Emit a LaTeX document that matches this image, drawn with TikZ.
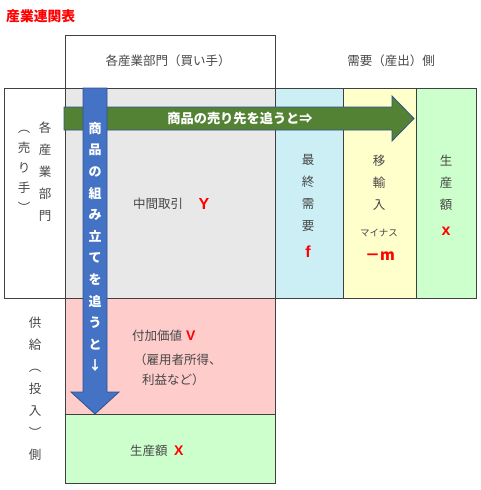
\documentclass[tikz,border=0pt]{standalone}
\usepackage{fontspec}
\setmainfont{Liberation Sans}
\newfontfamily\jp{Noto Sans CJK JP}
\definecolor{linec}{RGB}{64,64,64}
\definecolor{txt}{RGB}{70,70,70}
\definecolor{redc}{RGB}{255,0,0}
\definecolor{grayc}{RGB}{232,232,232}
\definecolor{bluec}{RGB}{204,239,245}
\definecolor{yelc}{RGB}{255,255,204}
\definecolor{grnc}{RGB}{204,255,204}
\definecolor{pinkc}{RGB}{255,204,204}
\definecolor{arrgreen}{RGB}{84,130,53}
\definecolor{arrblue}{RGB}{68,114,196}
\definecolor{arredge}{RGB}{47,82,143}
\begin{document}
\begin{tikzpicture}[x=1pt,y=-1pt,
  cell/.style={draw=linec,line width=0.8pt,inner sep=0pt,outer sep=0pt},
  jtext/.style={text=txt,inner sep=0pt,font=\jp\fontsize{12.5}{15}\selectfont},
  vtext/.style={text=txt,inner sep=0pt,align=center,font=\jp\fontsize{12.5}{22}\selectfont},
  varr/.style={text=white,inner sep=0pt,align=center,font=\jp\bfseries\fontsize{13}{21.6}\selectfont},
  redbig/.style={text=redc,inner sep=0pt,font=\bfseries\fontsize{16}{18}\selectfont},
  redmid/.style={text=redc,inner sep=0pt,font=\bfseries\fontsize{14}{16}\selectfont},
  blockarrow/.style={draw=arredge,line width=0.8pt}]
\useasboundingbox (0,0) rectangle (480,490);
% cells
\node[cell,minimum width=210pt,minimum height=53pt] (header) at (170,61.5) {};
\node[cell,minimum width=61pt,minimum height=210pt] (left) at (34.5,193) {};
\node[cell,fill=grayc,minimum width=210pt,minimum height=210pt] (gray) at (170,193) {};
\node[cell,fill=bluec,minimum width=68pt,minimum height=210pt] (final) at (309,193) {};
\node[cell,fill=yelc,minimum width=73pt,minimum height=210pt] (imp) at (379.5,193) {};
\node[cell,fill=grnc,minimum width=60pt,minimum height=210pt] (prodr) at (446,193) {};
\node[cell,fill=pinkc,minimum width=210pt,minimum height=116pt] (pink) at (170,356) {};
\node[cell,fill=grnc,minimum width=210pt,minimum height=69pt] (prodb) at (170,448.5) {};
% green arrow
\fill[arrgreen,blockarrow] (64,107) -- (392,107) -- (392,96) -- (414,118.5) -- (392,141) -- (392,130) -- (64,130) -- cycle;
% blue arrow
\fill[arrblue,blockarrow] (83,88) -- (107,88) -- (107,392) -- (119,392) -- (95,414) -- (71,392) -- (83,392) -- cycle;
% texts
\node[text=redc,inner sep=0pt,anchor=west,font=\jp\bfseries\fontsize{13.8}{16}\selectfont] (title) at (6,16) {産業連関表};
\node[jtext] (hbuy) at (168,61) {各産業部門（買い手）};
\node[jtext] (hdem) at (391,61) {需要（産出）側};
\node[vtext] (lsell1) at (45,172) {各\\産\\業\\部\\門};
\node[vtext,font=\jp\fontsize{12.5}{20}\selectfont] (lsell2) at (24,171) {︵\\売\\り\\手\\︶};
\node[vtext] (supply) at (35,389) {供\\給\\︵\\投\\入\\︶\\側};
\node[text=white,inner sep=0pt,font=\jp\bfseries\fontsize{13.2}{15}\selectfont] (gtext) at (240,118.5) {商品の売り先を追うと⇒};
\node[varr] (btext) at (95,247) {商\\品\\の\\組\\み\\立\\て\\を\\追\\う\\と\\↓};
\node[jtext,anchor=west] (mid) at (133,204) {中間取引};
\node[redbig] (Y) at (204,204) {Y};
\node[vtext] (fin) at (308,193) {最\\終\\需\\要};
\node[redbig] (f) at (308,252) {f};
\node[vtext] (imptxt) at (379,183) {移\\輸\\入};
\node[text=txt,inner sep=0pt,font=\jp\fontsize{9.5}{11}\selectfont] (minus) at (379,233) {マイナス};
\node[text=redc,inner sep=0pt,font=\jp\bfseries\fontsize{15}{18}\selectfont] (mm) at (380,256) {－m};
\node[vtext] (prodtxt) at (446,183) {生\\産\\額};
\node[redbig] (x) at (446,231) {x};
\node[jtext,anchor=west] (va) at (132,336) {付加価値};
\node[redmid,anchor=west] (V) at (186,336) {V};
\node[jtext,anchor=west] (va2) at (134,360) {（雇用者所得、};
\node[jtext,anchor=west] (va3) at (142,380) {利益など）};
\node[jtext,anchor=west] (pb) at (130,451) {生産額};
\node[redmid,anchor=west] (X) at (174,451) {X};
\end{tikzpicture}
\end{document}
